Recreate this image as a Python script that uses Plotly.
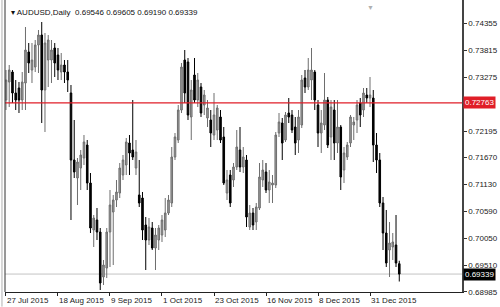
import pandas as pd
import plotly.graph_objects as go

# ---- data (AUDUSD daily) ----
dates = [d.strftime("%Y-%m-%d") for d in pd.bdate_range("2015-07-27", "2016-01-14")
         if d.strftime("%Y-%m-%d") not in ("2015-12-25", "2016-01-01")]

opens = [0.7282,0.7318,0.7338,0.7296,0.7306,0.7282,0.7316,0.7378,0.7342,0.7348,
         0.7392,0.7412,0.7302,0.7362,0.7362,0.7386,0.7372,0.7338,0.7352,0.7338,
         0.7296,0.7162,0.7126,0.7146,0.7166,0.7192,0.7116,0.7022,0.7042,0.7018,
         0.6928,0.6946,0.7018,0.7058,0.7082,0.7096,0.7132,0.7152,0.7196,0.7182,
         0.7146,0.7092,0.7086,0.7032,0.7002,0.7026,0.6986,0.7002,0.7012,0.7022,
         0.7056,0.7076,0.7168,0.7202,0.7262,0.7362,0.7358,0.7248,0.7332,0.7282,
         0.7308,0.7272,0.7246,0.7242,0.7212,0.7222,0.7248,0.7208,0.7096,0.7132,
         0.7122,0.7148,0.7182,0.7148,0.7162,0.7028,0.7056,0.7038,0.7066,0.7122,
         0.7138,0.7102,0.7112,0.7112,0.7216,0.7236,0.7202,0.7256,0.7252,0.7228,
         0.7202,0.7232,0.7326,0.7308,0.7322,0.7338,0.7272,0.7216,0.7232,0.7282,
         0.7208,0.7262,0.7196,0.7228,0.7142,0.7168,0.7196,0.7232,0.7242,0.7276,
         0.7262,0.7292,0.7286,0.7286,0.7192,0.7162,0.7076,0.7016,0.6982,0.6988,
         0.6992,0.69546]
highs = [0.7342,0.7352,0.7342,0.7322,0.7318,0.7338,0.7428,0.7396,0.7396,0.7402,
         0.7422,0.7438,0.7416,0.7412,0.7402,0.7396,0.7386,0.7376,0.7362,0.7362,
         0.7312,0.7242,0.7166,0.7182,0.7212,0.7202,0.7136,0.7052,0.7066,0.7026,
         0.6962,0.7026,0.7102,0.7092,0.7122,0.7156,0.7172,0.7206,0.7212,0.7282,
         0.7202,0.7162,0.7098,0.7048,0.7046,0.7038,0.7026,0.7032,0.7052,0.7086,
         0.7092,0.7188,0.7216,0.7272,0.7356,0.7382,0.7366,0.7322,0.7366,0.7336,
         0.7316,0.7302,0.7282,0.7262,0.7296,0.7272,0.7262,0.7228,0.7142,0.7142,
         0.7156,0.7222,0.7228,0.7188,0.7172,0.7072,0.7066,0.7076,0.7156,0.7162,
         0.7156,0.7142,0.7132,0.7218,0.7256,0.7246,0.7258,0.7286,0.7262,0.7248,
         0.7262,0.7332,0.7342,0.7366,0.7386,0.7342,0.7282,0.7262,0.7336,0.7288,
         0.7282,0.7282,0.7282,0.7232,0.7188,0.7198,0.7252,0.7248,0.7282,0.7286,
         0.7306,0.7306,0.7328,0.7302,0.7216,0.7176,0.7088,0.7062,0.7038,0.7016,
         0.7052,0.69605]
lows = [0.7262,0.7268,0.7276,0.7262,0.7256,0.7262,0.7262,0.7336,0.7316,0.7338,
        0.7336,0.7236,0.7218,0.7308,0.7316,0.7328,0.7322,0.7322,0.7316,0.7298,
        0.7042,0.7126,0.7072,0.7102,0.7152,0.7102,0.7016,0.6988,0.7002,0.6902,
        0.6912,0.6926,0.6948,0.6952,0.7068,0.7086,0.7122,0.7132,0.7132,0.7162,
        0.7132,0.7068,0.7002,0.6942,0.6992,0.6982,0.6942,0.6982,0.6998,0.7008,
        0.7052,0.7068,0.7162,0.7196,0.7256,0.7276,0.7242,0.7202,0.7276,0.7268,
        0.7248,0.7252,0.7228,0.7188,0.7202,0.7202,0.7196,0.7112,0.7082,0.7068,
        0.7108,0.7142,0.7138,0.7136,0.7028,0.7022,0.7022,0.7022,0.7062,0.7108,
        0.7096,0.7076,0.7076,0.7106,0.7208,0.7162,0.7198,0.7236,0.7216,0.7172,
        0.7176,0.7226,0.7296,0.7302,0.7282,0.7262,0.7188,0.7176,0.7222,0.7186,
        0.7162,0.7162,0.7176,0.7102,0.7116,0.7162,0.7188,0.7202,0.7216,0.7228,
        0.7248,0.7276,0.7268,0.7158,0.7136,0.7068,0.6982,0.6948,0.6928,0.6962,
        0.6948,0.69190]
closes = [0.7322,0.7342,0.7296,0.7282,0.7282,0.7318,0.7382,0.7356,0.7362,0.7392,
          0.7412,0.7302,0.7396,0.7402,0.7382,0.7356,0.7342,0.7352,0.7338,0.7322,
          0.7162,0.7138,0.7158,0.7172,0.7198,0.7116,0.7026,0.7046,0.7018,0.6916,
          0.6952,0.7018,0.7072,0.7082,0.7098,0.7146,0.7162,0.7198,0.7176,0.7168,
          0.7178,0.7076,0.7022,0.7002,0.7028,0.6986,0.7012,0.7026,0.7042,0.7056,
          0.7082,0.7168,0.7208,0.7262,0.7348,0.7296,0.7252,0.7302,0.7282,0.7322,
          0.7256,0.7292,0.7266,0.7216,0.7252,0.7266,0.7202,0.7116,0.7122,0.7076,
          0.7148,0.7188,0.7148,0.7168,0.7048,0.7056,0.7032,0.7068,0.7128,0.7142,
          0.7102,0.7118,0.7116,0.7212,0.7238,0.7196,0.7252,0.7248,0.7222,0.7196,
          0.7248,0.7322,0.7308,0.7342,0.7342,0.7282,0.7216,0.7236,0.7282,0.7192,
          0.7268,0.7196,0.7228,0.7128,0.7176,0.7192,0.7248,0.7238,0.7272,0.7252,
          0.7296,0.7286,0.7292,0.7192,0.7162,0.7076,0.7016,0.6956,0.6996,0.6998,
          0.6956,0.69339]

y_ticks = [0.74355, 0.73815, 0.73275, 0.72735, 0.72195, 0.71670, 0.71130,
           0.70590, 0.70050, 0.69510, 0.68985]
hidden_tick = 0.72735  # covered by the level label in the reference
x_tick_dates = ["2015-07-27", "2015-08-18", "2015-09-09", "2015-10-01",
                "2015-10-23", "2015-11-16", "2015-12-08", "2015-12-31"]
x_tick_labels = ["27 Jul 2015", "18 Aug 2015", "9 Sep 2015", "1 Oct 2015",
                 "23 Oct 2015", "16 Nov 2015", "8 Dec 2015", "31 Dec 2015"]
level_line = 0.72763
last_price = closes[-1]
symbol = "AUDUSD,Daily"

FONT = "Liberation Sans"

fig = go.Figure()
fig.add_trace(go.Candlestick(
    x=dates, open=opens, high=highs, low=lows, close=closes,
    increasing=dict(line=dict(color="#6e6e6e", width=1), fillcolor="#9c9c9c"),
    decreasing=dict(line=dict(color="#000000", width=1), fillcolor="#000000"),
    whiskerwidth=0, showlegend=False, hoverinfo="skip"))

shapes = [
    dict(type="line", xref="paper", yref="y", x0=0, x1=1, y0=level_line, y1=level_line,
         line=dict(color="#e01e28", width=1.2), layer="above"),
    dict(type="line", xref="paper", yref="y", x0=0, x1=1, y0=last_price, y1=last_price,
         line=dict(color="#c4c4c4", width=1), layer="below"),
    dict(type="line", xref="paper", yref="paper", x0=-0.0066, x1=-0.0066, y0=-0.05, y1=1,
         line=dict(color="#b0b0b0", width=1)),
    dict(type="line", xref="paper", yref="paper", x0=0, x1=0, y0=0, y1=1,
         line=dict(color="#333", width=1)),
]

annotations = []
for d, t in zip(x_tick_dates, x_tick_labels):
    annotations.append(dict(x=d, xref="x", y=0, yref="paper", text=t, showarrow=False,
                            xanchor="left", yanchor="top", yshift=-2, xshift=-1,
                            font=dict(family=FONT, size=8, color="#222")))
annotations.append(dict(x=1, xref="paper", y=level_line, yref="y", text="%.5f" % level_line,
                        showarrow=False, xanchor="left", yanchor="middle", xshift=1,
                        bgcolor="#e01e28", borderpad=1,
                        font=dict(family=FONT, size=8, color="white")))
annotations.append(dict(x=1, xref="paper", y=last_price, yref="y", text="%.5f" % last_price,
                        showarrow=False, xanchor="left", yanchor="middle", xshift=1,
                        bgcolor="#000000", borderpad=1,
                        font=dict(family=FONT, size=8, color="white")))
annotations.append(dict(x=0.008, xref="paper", y=0.957, yref="paper",
                        text="▾ %s  %.5f %.5f %.5f %.5f" % (symbol, opens[-1], highs[-1], lows[-1], closes[-1]),
                        showarrow=False, xanchor="left", yanchor="middle",
                        font=dict(family=FONT, size=8, color="#111")))
annotations.append(dict(x=0.8, xref="paper", y=0.975, yref="paper", text="▼",
                        showarrow=False, xanchor="center", yanchor="middle",
                        font=dict(family=FONT, size=7, color="#b0b0b0")))

fig.update_layout(
    width=500, height=307,
    margin=dict(l=5, r=38, t=0, b=15),
    paper_bgcolor="white", plot_bgcolor="white",
    shapes=shapes, annotations=annotations,
    xaxis=dict(type="category", range=[-0.3, 140.3], rangeslider=dict(visible=False),
               showgrid=False, zeroline=False, showline=True, linecolor="#222", linewidth=1,
               mirror=False, ticks="outside", ticklen=3, tickcolor="#222",
               tickvals=x_tick_dates, showticklabels=False),
    yaxis=dict(side="right", range=[0.6898, 0.7482], showgrid=False, zeroline=False,
               showline=True, linecolor="#444", linewidth=1.5, ticks="outside", ticklen=3,
               tickcolor="#333", tickvals=y_ticks,
               ticktext=["" if v == hidden_tick else "%.5f" % v for v in y_ticks],
               tickfont=dict(family=FONT, size=8, color="#222")),
)

fig.write_html("out.html")
